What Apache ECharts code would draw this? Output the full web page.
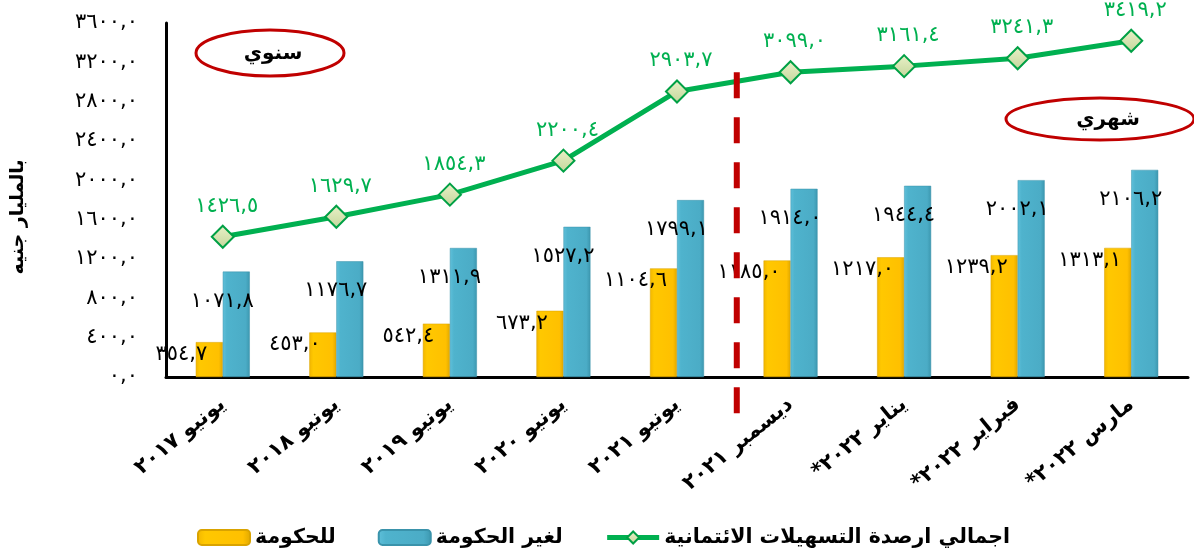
<!DOCTYPE html>
<html>
<head>
<meta charset="utf-8">
<script src="https://cdn.jsdelivr.net/npm/echarts@6/dist/echarts.min.js"></script>
<style>
html,body{margin:0;padding:0;background:#fff;}
#chart{width:1194px;height:557px;}
</style>
</head>
<body>
<div id="chart"></div>
<script>
// ---- data ----
const categories = ['يونيو ٢٠١٧','يونيو ٢٠١٨','يونيو ٢٠١٩','يونيو ٢٠٢٠','يونيو ٢٠٢١','ديسمبر ٢٠٢١','يناير ٢٠٢٢*','فبراير ٢٠٢٢*','مارس ٢٠٢٢*'];
const govValues = [354.7, 453.0, 542.4, 673.2, 1104.6, 1185.0, 1217.0, 1239.2, 1313.1];
const nonGovValues = [1071.8, 1176.7, 1311.9, 1527.2, 1799.1, 1914.0, 1944.4, 2002.1, 2106.2];
const totalValues = [1426.5, 1629.7, 1854.3, 2200.4, 2903.7, 3099.0, 3161.4, 3241.3, 3419.2];
const seriesNames = ['للحكومة', 'لغير الحكومة', 'اجمالي ارصدة التسهيلات الائتمانية'];
const yAxisName = 'بالمليار جنيه';
const annualText = 'سنوي';
const monthlyText = 'شهري';

const FONT = 'DejaVu Sans';
function toArabicDigits(s){
  return String(s).replace(/[0-9]/g, d => '٠١٢٣٤٥٦٧٨٩'[+d]);
}
function fmt(v){ return toArabicDigits(Number(v).toFixed(1)).replace('.', ','); }

const chart = echarts.init(document.getElementById('chart'));
const option = {
  backgroundColor: '#ffffff',
  animation: false,
  grid: {left: 166, right: 6, top: 23, bottom: 180},
  legend: {
    data: [
      {name: seriesNames[0]},
      {name: seriesNames[1]},
      {name: seriesNames[2], lineStyle: {width: 5}, itemStyle: {borderWidth: 2}}
    ],
    left: 192, bottom: 4,
    itemWidth: 52, itemHeight: 15, itemGap: 42,
    textStyle: {fontFamily: FONT, fontSize: 20.5, fontWeight: 'bold', color: '#000'}
  },
  xAxis: {
    type: 'category',
    data: categories,
    axisLine: {lineStyle: {color: '#000', width: 3}},
    axisTick: {show: false},
    axisLabel: {
      rotate: 39, margin: 25, interval: 0,
      fontFamily: FONT, fontSize: 21, fontWeight: 'bold', color: '#000',
      formatter: v => v + '\u200F'
    }
  },
  yAxis: {
    type: 'value', min: 0, max: 3600, interval: 400,
    name: yAxisName, nameLocation: 'middle', nameRotate: 90, nameGap: 138,
    nameTextStyle: {fontFamily: FONT, fontSize: 19, fontWeight: 'bold', color: '#000', padding: [0, 34, 0, 0]},
    axisLine: {show: true, lineStyle: {color: '#000', width: 3}},
    axisTick: {show: false},
    splitLine: {show: false},
    axisLabel: {margin: 28, fontFamily: FONT, fontSize: 21, color: '#000', formatter: v => fmt(v)}
  },
  series: [
    {
      name: seriesNames[0], type: 'bar', data: govValues,
      barWidth: 27, barGap: '0%',
      itemStyle: {
        color: new echarts.graphic.LinearGradient(0,0,1,0,[
          {offset:0,color:'#F2B600'},{offset:0.15,color:'#FFC800'},{offset:0.85,color:'#FFC000'},{offset:1,color:'#E0A800'}]),
        borderColor: '#D9A300', borderWidth: 0.5
      },
      label: {show: true, position: 'top', offset: [-28, 28], fontFamily: FONT, fontSize: 21, color: '#000', formatter: p => fmt(p.value)}
    },
    {
      name: seriesNames[1], type: 'bar', data: nonGovValues,
      barWidth: 27,
      itemStyle: {
        color: new echarts.graphic.LinearGradient(0,0,1,0,[
          {offset:0,color:'#5FC0DA'},{offset:0.15,color:'#4FB3CD'},{offset:0.85,color:'#4BACC6'},{offset:1,color:'#3C97AF'}]),
        borderColor: '#3A93AB', borderWidth: 0.5
      },
      label: {show: true, position: 'top', offset: [-14, 45], fontFamily: FONT, fontSize: 21, color: '#000', formatter: p => fmt(p.value)}
    },
    {
      name: seriesNames[2], type: 'line', data: totalValues,
      symbol: 'diamond', symbolSize: 22,
      lineStyle: {color: '#00B050', width: 5},
      itemStyle: {
        color: new echarts.graphic.LinearGradient(0,0,0,1,[{offset:0,color:'#EAF1C8'},{offset:1,color:'#C3D69B'}]),
        borderColor: '#00A045', borderWidth: 2
      },
      label: {show: true, position: 'top', offset: [4, -3], fontFamily: FONT, fontSize: 21, color: '#00B050', formatter: p => fmt(p.value)},
      z: 5
    }
  ]
};
chart.setOption(option);

// annotations computed from the axes
const xa = chart.convertToPixel({xAxisIndex: 0}, 4);
const xb = chart.convertToPixel({xAxisIndex: 0}, 5);
const xMid = (xa + xb) / 2 + 3;
const yZero = chart.convertToPixel({yAxisIndex: 0}, 0);
const yTop = chart.convertToPixel({yAxisIndex: 0}, 3100);
chart.setOption({
  graphic: [
    {type: 'line', shape: {x1: xMid, y1: yTop, x2: xMid, y2: yZero + 38},
     style: {stroke: '#C00000', lineWidth: 6, lineDash: [26, 19]}, z: 10},
    {type: 'ellipse', shape: {cx: 270, cy: 53, rx: 74, ry: 23},
     style: {fill: '#fff', stroke: '#C00000', lineWidth: 3}, z: 10},
    {type: 'text', x: 273, y: 54, style: {text: annualText, font: 'bold 20px "DejaVu Sans"', fill: '#000', align: 'center', verticalAlign: 'middle'}, z: 11},
    {type: 'ellipse', shape: {cx: 1100, cy: 119, rx: 94, ry: 21},
     style: {fill: '#fff', stroke: '#C00000', lineWidth: 3}, z: 10},
    {type: 'text', x: 1108, y: 120, style: {text: monthlyText, font: 'bold 20px "DejaVu Sans"', fill: '#000', align: 'center', verticalAlign: 'middle'}, z: 11}
  ]
});
</script>
</body>
</html>
